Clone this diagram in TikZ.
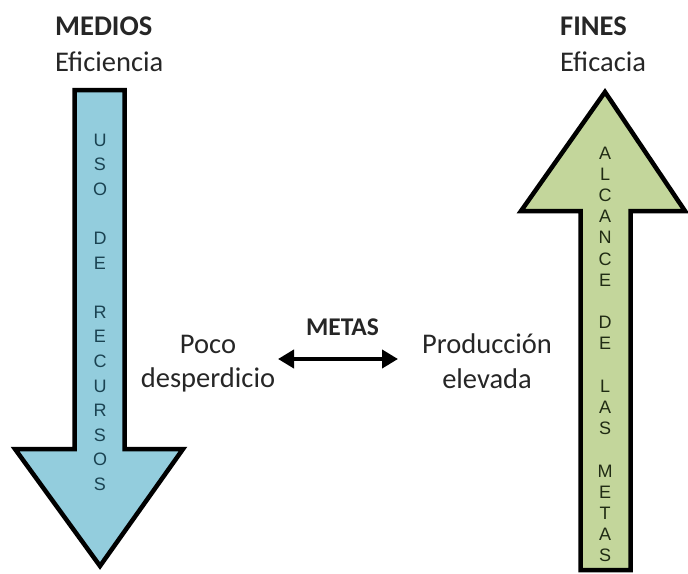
\documentclass[tikz,border=0pt]{standalone}
\usepackage{fontspec}
\setmainfont{Carlito}
\newfontfamily\lettersfont{Liberation Sans}
\usepackage{tikz}
\usetikzlibrary{arrows.meta}

\definecolor{medblue}{HTML}{93CDDD}
\definecolor{fingreen}{HTML}{C3D69B}
\definecolor{medtext}{HTML}{1B4352}
\definecolor{fintext}{HTML}{202B14}
\definecolor{inktext}{HTML}{262626}

\begin{document}
\begin{tikzpicture}[x=1pt,y=-1pt,
    txt/.style={inner sep=0pt, anchor=base, text=inktext, font=\fontsize{28.5}{34}\selectfont},
    ttl/.style={txt, font=\fontsize{28.5}{34}\selectfont\bfseries},
    vtext/.style={inner sep=0pt, anchor=north, align=center, font=\lettersfont\fontsize{18}{#1}\selectfont},
    bigarrow/.style={line width=4.5pt, draw=black, miter limit=10}]
            \useasboundingbox (0,0) rectangle (688,573);

            % medios: downward arrow
            \coordinate (d1) at (74.5, 90);
            \coordinate (d2) at (124.5, 90);
            \coordinate (d3) at (124.5, 449);
            \coordinate (d4) at (183, 449);
            \coordinate (d5) at (100, 566);
            \coordinate (d6) at (15, 449);
            \coordinate (d7) at (74.5, 449);

            % fines: upward arrow
            \coordinate (u1) at (580.5, 570);
            \coordinate (u2) at (580.5, 211);
            \coordinate (u3) at (521, 211);
            \coordinate (u4) at (605, 92);
            \coordinate (u5) at (685, 211);
            \coordinate (u6) at (630.5, 211);
            \coordinate (u7) at (630.5, 570);

            \draw[bigarrow, fill=medblue] (d1) -- (d2) -- (d3) -- (d4) -- (d5) -- (d6) -- (d7) -- cycle;
            \draw[bigarrow, fill=fingreen] (u1) -- (u2) -- (u3) -- (u4) -- (u5) -- (u6) -- (u7) -- cycle;

            \node (uso) at (100, 133.5) [vtext=24.6, text=medtext]
                {U\\S\\O\\\mbox{}\\D\\E\\\mbox{}\\R\\E\\C\\U\\R\\S\\O\\S};
            \node (alcance) at (605, 146.5) [vtext=21.2, text=fintext]
                {A\\L\\C\\A\\N\\C\\E\\\mbox{}\\D\\E\\\mbox{}\\L\\A\\S\\\mbox{}\\M\\E\\T\\A\\S};

            \node (medios) at (55, 35) [ttl, anchor=base west] {MEDIOS};
            \node (eficiencia) at (55, 71) [txt, anchor=base west] {Eficiencia};
            \node (fines) at (560, 35) [ttl, anchor=base west] {FINES};
            \node (eficacia) at (560, 71) [txt, anchor=base west] {Eficacia};

            \node (metas) at (342.5, 335) [ttl, font=\fontsize{25.5}{30}\selectfont\bfseries] {METAS};
            \node (poco) at (208, 353) [txt] {Poco};
            \node (desp) at (208, 387) [txt] {desperdicio};
            \node (prod) at (487, 353) [txt] {Producción};
            \node (elev) at (487, 388) [txt] {elevada};

            \coordinate (mL) at (278, 359);
            \coordinate (mR) at (398, 359);
            \draw[line width=4pt, {Triangle[length=16pt,width=18pt]}-{Triangle[length=16pt,width=18pt]}] (mL) -- (mR);

            \end{tikzpicture}
\end{document}
